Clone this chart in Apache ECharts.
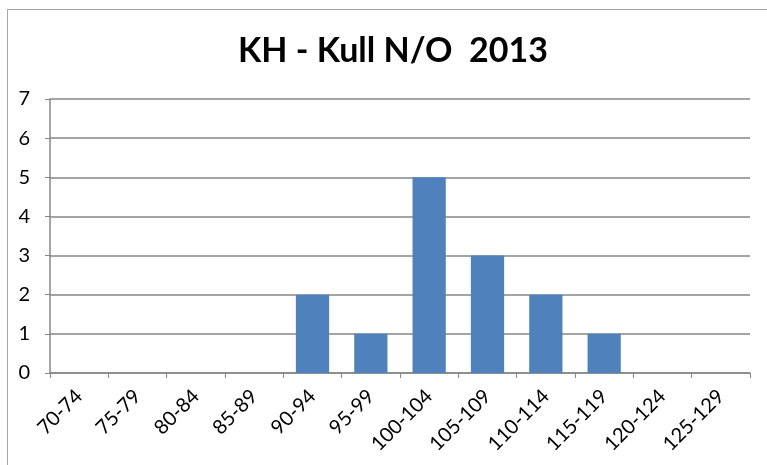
<!DOCTYPE html>
<html>
<head>
<meta charset="utf-8">
<script src="https://cdn.jsdelivr.net/npm/echarts@6/dist/echarts.min.js"></script>
<style>
  html, body { margin: 0; padding: 0; background: #fff; }
  #frame { position: absolute; left: 7px; top: 9px; width: 780px; height: 480px; border: 1px solid #a6a6a6; }
  #chart { width: 767px; height: 465px; }
</style>
</head>
<body>
<div id="frame"></div>
<div id="chart"></div>
<script>
// IQ-intervaller og antall elever
const categories = ['70-74', '75-79', '80-84', '85-89', '90-94', '95-99', '100-104', '105-109', '110-114', '115-119', '120-124', '125-129'];
const counts = [0, 0, 0, 0, 2, 1, 5, 3, 2, 1, 0, 0];
const yTicks = [0, 1, 2, 3, 4, 5, 6, 7];

const chart = echarts.init(document.getElementById('chart'));
chart.setOption({
  animation: false,
  title: {
    text: 'KH - Kull N/O  2013',
    left: 388,
    top: 29,
    textAlign: 'center',
    textStyle: { fontFamily: 'Lato', fontWeight: 'bold', fontSize: 34, color: '#000' }
  },
  grid: { left: 50, right: 17, top: 99, bottom: 92 },
  xAxis: {
    type: 'category',
    data: categories,
    axisLine: { lineStyle: { color: '#868686', width: 1.5 } },
    axisTick: { show: true, length: 5, lineStyle: { color: '#868686' } },
    axisLabel: {
      interval: 0,
      rotate: 45,
      margin: 20,
      fontFamily: 'Lato',
      fontSize: 20,
      color: '#000'
    }
  },
  yAxis: {
    type: 'value',
    min: yTicks[0],
    max: yTicks[yTicks.length - 1],
    interval: 1,
    axisLine: { show: true, lineStyle: { color: '#868686', width: 1.5 } },
    axisTick: { show: true, length: 5, lineStyle: { color: '#868686' } },
    splitLine: { lineStyle: { color: '#868686', width: 1.5 } },
    axisLabel: { margin: 20, fontFamily: 'Lato', fontSize: 20, color: '#000' }
  },
  series: [{
    type: 'bar',
    data: counts,
    barWidth: '57%',
    itemStyle: { color: '#4f81bd' }
  }]
});
</script>
</body>
</html>
